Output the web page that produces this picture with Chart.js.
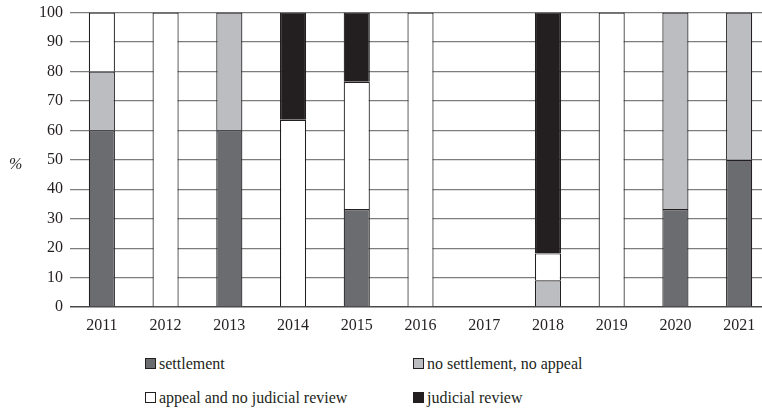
<!DOCTYPE html>
<html>
<head>
<meta charset="utf-8">
<script src="https://cdn.jsdelivr.net/npm/chart.js@4/dist/chart.umd.min.js"></script>
<style>
    html, body { margin: 0; padding: 0; background: #fff; overflow: hidden; }
    body { width: 762px; height: 411px; position: relative; font-family: "Liberation Serif", serif; color: #231f20; }
    .chart-box { position: absolute; left: 0; top: -4px; width: 771px; height: 339px; }
    .y-title { position: absolute; left: 9px; top: 155px; font-size: 16px; font-style: italic; }
    .legend { position: absolute; left: 145px; top: 353px; width: 400px; }
    .legend ul { list-style: none; margin: 0; padding: 0; display: grid; grid-template-columns: 268px 260px; row-gap: 12px; }
    .legend li { font-size: 16px; line-height: 22px; white-space: nowrap; }
    .legend .box { display: inline-block; width: 9px; height: 9px; border: 1px solid #231f20; margin-right: 3px; vertical-align: 0px; }
</style>
</head>
<body>
<div class="chart-box"><canvas class="my-chart"></canvas></div>
<div class="y-title">%</div>
<div class="legend"><ul></ul></div>
<script>
const years = ["2011", "2012", "2013", "2014", "2015", "2016", "2017", "2018", "2019", "2020", "2021"];
const seriesNames = ["settlement", "no settlement, no appeal", "appeal and no judicial review", "judicial review"];
const settlement = [60, 0, 60, 0, 33.3, 0, 0, 0, 0, 33.3, 50];
const noSettlement = [20, 0, 40, 0, 0, 0, 0, 9.1, 0, 66.7, 50];
const appeal = [20, 100, 0, 63.6, 43.2, 100, 0, 9.1, 100, 0, 0];
const judicialReview = [0, 0, 0, 36.4, 23.5, 0, 0, 81.8, 0, 0, 0];
const yTicks = [0, 10, 20, 30, 40, 50, 60, 70, 80, 90, 100];

const colors = ["#6b6c6f", "#bcbdc0", "#ffffff", "#231f20"];
const values = [settlement, noSettlement, appeal, judicialReview];

const myChart = document.querySelector(".my-chart");
const ul = document.querySelector(".legend ul");

const chart = new Chart(myChart, {
    type: "bar",
    data: {
        labels: years,
        datasets: seriesNames.map((name, i) => ({
            label: name,
            data: values[i],
            backgroundColor: colors[i],
            borderColor: "#231f20",
            borderWidth: 1.2,
            barPercentage: 0.41,
            categoryPercentage: 1,
        })),
    },
    options: {
        responsive: true,
        maintainAspectRatio: false,
        animation: false,
        layout: { padding: { top: 0, left: 0, right: 0, bottom: 0 } },
        plugins: {
            legend: { display: false },
            tooltip: { enabled: false },
        },
        scales: {
            x: {
                stacked: true,
                grid: { display: false, drawTicks: false },
                border: { display: false },
                ticks: {
                    color: "#231f20",
                    padding: 9,
                    font: { family: "Liberation Serif", size: 16 },
                },
                afterFit: (scale) => { scale.height = 28; },
            },
            y: {
                stacked: true,
                min: 0,
                max: 100,
                afterBuildTicks: (scale) => { scale.ticks = yTicks.map((v) => ({ value: v })); },
                grid: {
                    drawTicks: false,
                    color: (ctx) => (ctx.tick && ctx.tick.value === 0 ? "#4a4a4a" : "#7d7d7d"),
                    lineWidth: (ctx) => (ctx.tick && ctx.tick.value === 0 ? 1.5 : 1.2),
                },
                border: { display: false },
                ticks: {
                    color: "#231f20",
                    padding: 7,
                    font: { family: "Liberation Serif", size: 16 },
                },
                afterFit: (scale) => { scale.width = 70; },
            },
        },
    },
});

// legend en HTML, deux colonnes comme sur la figure
const populateUl = () => {
    chart.data.datasets.forEach((ds) => {
        let li = document.createElement("li");
        li.innerHTML = `<span class='box' style='background:${ds.backgroundColor}'></span>${ds.label}`;
        ul.appendChild(li);
    });
};

populateUl();
</script>
</body>
</html>
